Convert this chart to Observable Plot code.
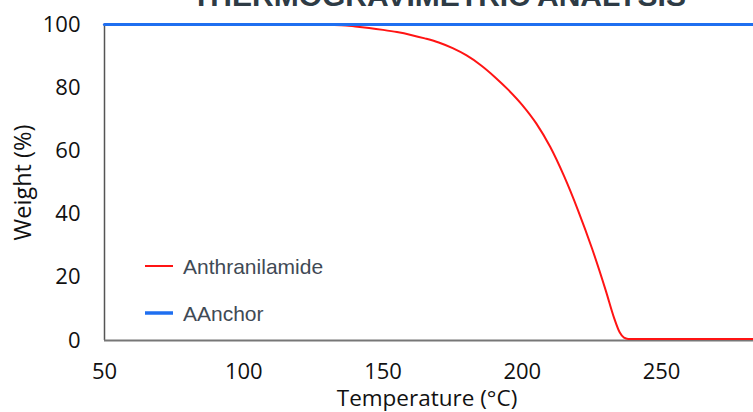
<!DOCTYPE html>
<html>
<head>
<meta charset="utf-8">
<script src="https://cdn.jsdelivr.net/npm/d3@7"></script>
<script src="https://cdn.jsdelivr.net/npm/@observablehq/plot@0.6"></script>
<style>
  html, body { margin: 0; padding: 0; background: white; overflow: hidden; }
</style>
</head>
<body>
<div id="chart"></div>
<script>
const chartTitle = "THERMOGRAVIMETRIC ANALYSIS";
const xLabel = "Temperature (°C)";
const yLabel = "Weight (%)";
const seriesNames = ["Anthranilamide", "AAnchor"];
const seriesColors = ["#ff1414", "#1f6ff0"];

// Anthranilamide weight loss curve
const anthTemps   = [50, 125, 135, 140, 145, 150, 155, 160, 165, 170, 175, 180, 185, 190, 195, 200, 205, 210, 215, 220, 225, 230, 233, 235, 236.5, 238, 250, 283];
const anthWeights = [100, 100, 99.8, 99.4, 98.9, 98.3, 97.6, 96.7, 95.6, 94.3, 92.5, 90.2, 87.2, 83.5, 79.3, 74.5, 68.7, 61.3, 52.0, 41.2, 29.2, 15.7, 7.0, 2.5, 0.9, 0.5, 0.5, 0.5];

// AAnchor stays at 100 %
const anchorTemps   = [50, 283];
const anchorWeights = [100, 100];

const xTicks = [50, 100, 150, 200, 250];
const yTicks = [0, 20, 40, 60, 80, 100];
const xDomain = [50, 283];
const yDomain = [0, 100];

const anth = anthTemps.map((t, i) => ({t, w: anthWeights[i]}));
const anchor = anchorTemps.map((t, i) => ({t, w: anchorWeights[i]}));

const plot = Plot.plot({
  width: 753,
  height: 412,
  marginTop: 24,
  marginBottom: 72,
  marginLeft: 104,
  marginRight: 0,
  style: {fontFamily: "'Open Sans', sans-serif", fontSize: "22px", color: "#111", background: "white", overflow: "visible"},
  x: {domain: xDomain, label: null},
  y: {domain: yDomain, label: null},
  marks: [
    Plot.axisX({ticks: xTicks, tickSize: 0, tickPadding: 23, label: null}),
    Plot.axisY({ticks: yTicks, tickSize: 0, tickPadding: 24, label: null}),
    Plot.ruleX([xDomain[0]], {stroke: "#555", strokeWidth: 1.5}),
    Plot.ruleY([yDomain[0]], {stroke: "#777", strokeWidth: 2.2}),
    Plot.line(anth, {x: "t", y: "w", stroke: seriesColors[0], strokeWidth: 2, curve: "monotone-x"}),
    Plot.line(anchor, {x: "t", y: "w", stroke: seriesColors[1], strokeWidth: 3.2}),
    Plot.text([xLabel], {frameAnchor: "bottom", textAnchor: "middle", dx: -2, dy: 58.5, lineAnchor: "middle", fontSize: 22.5, fill: "#111"}),
    Plot.text([yLabel], {frameAnchor: "left", textAnchor: "middle", dx: -81, rotate: -90, lineAnchor: "middle", fontSize: 23.5, fill: "#111"}),
    Plot.text([chartTitle], {frameAnchor: "top", textAnchor: "middle", dx: 10, dy: -19, lineAnchor: "bottom", fontSize: 30, fontWeight: "bold", fontFamily: "'Liberation Sans', Arial, sans-serif", fill: "#2e3b45"})
  ]
});

// Legend inside the plot area
const svg = d3.select(plot);
const leg = svg.append("g")
  .attr("font-family", "'Liberation Sans', Arial, sans-serif")
  .attr("font-size", 21)
  .attr("text-anchor", "start");
const legY = [266, 313];
seriesNames.forEach((name, i) => {
  leg.append("line").attr("x1", 145).attr("x2", 173).attr("y1", legY[i]).attr("y2", legY[i])
    .attr("stroke", seriesColors[i]).attr("stroke-width", i === 0 ? 2 : 3.5);
  leg.append("text").attr("x", 183).attr("y", legY[i] + 7.5).attr("fill", "#3f4a55").text(name);
});

document.getElementById("chart").appendChild(plot);
</script>
</body>
</html>
